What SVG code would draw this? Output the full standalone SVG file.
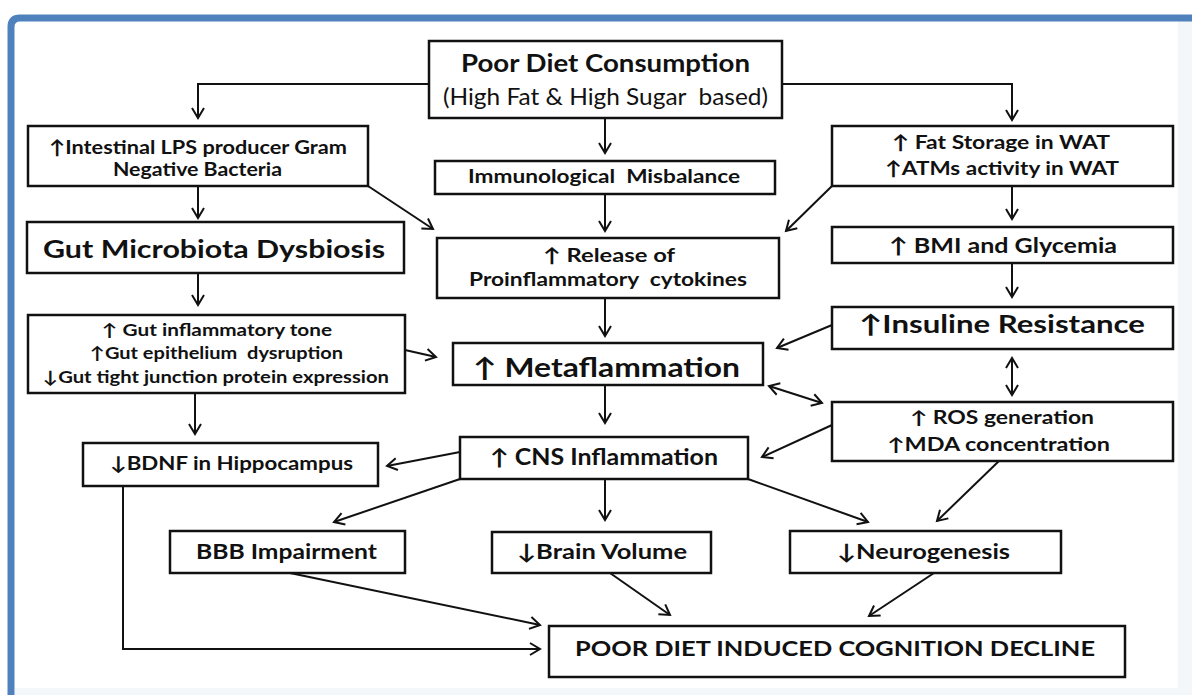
<svg xmlns="http://www.w3.org/2000/svg" width="1192" height="695" viewBox="0 0 1192 695">
<defs>
<marker id="ah" markerUnits="userSpaceOnUse" markerWidth="16" markerHeight="16" refX="11" refY="7" orient="auto-start-reverse" viewBox="0 0 16 14">
<path d="M1,1 L11,7 L1,13" fill="none" stroke="#111" stroke-width="2"/>
</marker>
<style>
.box{fill:#fff;stroke:#111;stroke-width:2.5}
.c{fill:none;stroke:#111;stroke-width:2}
.a{marker-end:url(#ah)}
.b{marker-start:url(#ah);marker-end:url(#ah)}
text{font-family:Lato,"DejaVu Sans",sans-serif;font-weight:bold;fill:#111}
.r{font-weight:normal}
</style>
</defs>
<rect x="0" y="0" width="1192" height="695" fill="#fff"/>
<rect x="1178" y="20" width="14" height="675" fill="#f4f7f9"/>
<rect x="15" y="688" width="1177" height="7" fill="#f4f7f9"/>
<path d="M11,695 L11,27 Q11,18 20,18 L1192,18" fill="none" stroke="#4f81bd" stroke-width="7"/>

<g id="connectors">
<path class="c a" d="M429,84 L198,84 L198,118"/>
<path class="c a" d="M782,84 L1012,84 L1012,120"/>
<path class="c a" d="M605,118 L605,153"/>
<path class="c a" d="M198,186 L198,218"/>
<path class="c a" d="M605,194 L605,231"/>
<path class="c a" d="M368,186 L433,229"/>
<path class="c a" d="M832,186 L786,231"/>
<path class="c a" d="M1012,186 L1012,219"/>
<path class="c a" d="M198,273 L198,305"/>
<path class="c a" d="M605,298 L605,336"/>
<path class="c a" d="M1012,263 L1012,297"/>
<path class="c a" d="M405,350 L436,357"/>
<path class="c a" d="M832,325 L777,348"/>
<path class="c b" d="M1012,358 L1012,395"/>
<path class="c b" d="M769,386 L822,403"/>
<path class="c a" d="M195,393 L195,434"/>
<path class="c a" d="M605,385 L605,423"/>
<path class="c a" d="M832,425 L762,457"/>
<path class="c a" d="M460,452 L387,466"/>
<path class="c a" d="M460,479 L334,522"/>
<path class="c a" d="M605,479 L605,520"/>
<path class="c a" d="M748,479 L868,522"/>
<path class="c a" d="M999,461 L937,521"/>
<path class="c a" d="M123,486 L123,649 L540,649"/>
<path class="c a" d="M290,573 L540,625"/>
<path class="c a" d="M610,573 L670,615"/>
<path class="c a" d="M934,573 L869,616"/>
</g>

<g id="poor-diet">
<rect class="box" x="429" y="41" width="353" height="77"/>
<text x="461" y="72" font-size="24" textLength="289" lengthAdjust="spacingAndGlyphs">Poor Diet Consumption</text>
<text class="r" x="443" y="105" font-size="24" textLength="325" lengthAdjust="spacingAndGlyphs" xml:space="preserve">(High Fat &amp; High Sugar  based)</text>
</g>
<g id="immuno">
<rect class="box" x="435" y="161" width="340" height="33"/>
<text x="468" y="183" font-size="19" textLength="272" lengthAdjust="spacingAndGlyphs" xml:space="preserve">Immunological  Misbalance</text>
</g>
<g id="lps">
<rect class="box" x="28" y="126" width="340" height="60"/>
<text x="49" y="154" font-size="19" textLength="298" lengthAdjust="spacingAndGlyphs">↑Intestinal LPS producer Gram</text>
<text x="113" y="176" font-size="19" textLength="169" lengthAdjust="spacingAndGlyphs">Negative Bacteria</text>
</g>
<g id="fat">
<rect class="box" x="832" y="126" width="341" height="60"/>
<text x="892" y="149" font-size="19" textLength="218" lengthAdjust="spacingAndGlyphs">↑ Fat Storage in WAT</text>
<text x="885" y="175" font-size="19" textLength="234" lengthAdjust="spacingAndGlyphs">↑ATMs activity in WAT</text>
</g>
<g id="dysbiosis">
<rect class="box" x="27" y="222" width="377" height="51"/>
<text x="43" y="258" font-size="25" textLength="342" lengthAdjust="spacingAndGlyphs">Gut Microbiota Dysbiosis</text>
</g>
<g id="release">
<rect class="box" x="437" y="238" width="342" height="60"/>
<text x="543" y="262" font-size="19" textLength="132" lengthAdjust="spacingAndGlyphs">↑ Release of</text>
<text x="469" y="286" font-size="19" textLength="278" lengthAdjust="spacingAndGlyphs" xml:space="preserve">Proinflammatory  cytokines</text>
</g>
<g id="bmi">
<rect class="box" x="832" y="227" width="341" height="36"/>
<text x="889" y="253" font-size="21" textLength="228" lengthAdjust="spacingAndGlyphs">↑ BMI and Glycemia</text>
</g>
<g id="gut-inflam">
<rect class="box" x="28" y="315" width="377" height="78"/>
<text x="102" y="336" font-size="17" textLength="230" lengthAdjust="spacingAndGlyphs">↑ Gut inflammatory tone</text>
<text x="90" y="359" font-size="17" textLength="253" lengthAdjust="spacingAndGlyphs" xml:space="preserve">↑Gut epithelium  dysruption</text>
<text x="43" y="383" font-size="17" textLength="346" lengthAdjust="spacingAndGlyphs">↓Gut tight junction protein expression</text>
</g>
<g id="metaflammation">
<rect class="box" x="453" y="343" width="310" height="42"/>
<text x="473" y="377" font-size="26" textLength="267" lengthAdjust="spacingAndGlyphs">↑ Metaflammation</text>
</g>
<g id="insuline">
<rect class="box" x="832" y="307" width="341" height="42"/>
<text x="859" y="333" font-size="25" textLength="286" lengthAdjust="spacingAndGlyphs">↑Insuline Resistance</text>
</g>
<g id="ros">
<rect class="box" x="832" y="402" width="341" height="59"/>
<text x="910" y="424" font-size="18" textLength="184" lengthAdjust="spacingAndGlyphs">↑ ROS generation</text>
<text x="887" y="451" font-size="18" textLength="223" lengthAdjust="spacingAndGlyphs">↑MDA concentration</text>
</g>
<g id="cns">
<rect class="box" x="460" y="437" width="288" height="42"/>
<text x="490" y="465" font-size="22" textLength="228" lengthAdjust="spacingAndGlyphs">↑ CNS Inflammation</text>
</g>
<g id="bdnf">
<rect class="box" x="83" y="443" width="295" height="43"/>
<text x="110" y="470" font-size="19" textLength="243" lengthAdjust="spacingAndGlyphs">↓BDNF in Hippocampus</text>
</g>
<g id="bbb">
<rect class="box" x="170" y="531" width="235" height="42"/>
<text x="196" y="559" font-size="21" textLength="181" lengthAdjust="spacingAndGlyphs">BBB Impairment</text>
</g>
<g id="brain">
<rect class="box" x="492" y="532" width="219" height="41"/>
<text x="517" y="559" font-size="21" textLength="170" lengthAdjust="spacingAndGlyphs">↓Brain Volume</text>
</g>
<g id="neuro">
<rect class="box" x="790" y="531" width="271" height="42"/>
<text x="837" y="559" font-size="21" textLength="173" lengthAdjust="spacingAndGlyphs">↓Neurogenesis</text>
</g>
<g id="decline">
<rect class="box" x="549" y="626" width="576" height="51"/>
<text x="575" y="656" font-size="21" textLength="520" lengthAdjust="spacingAndGlyphs">POOR DIET INDUCED COGNITION DECLINE</text>
</g>
</svg>
